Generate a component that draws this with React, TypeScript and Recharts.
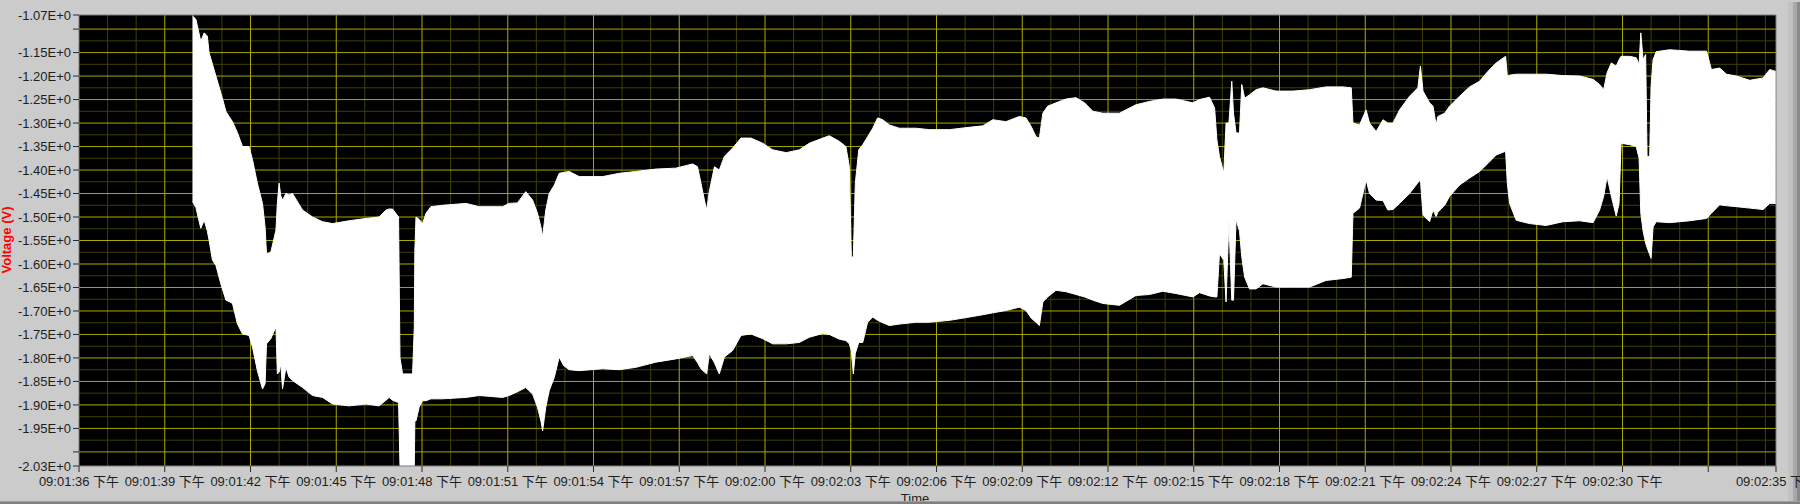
import { ComposedChart, Area, XAxis, YAxis, CartesianGrid } from "recharts";

// Seconds after 09:01:00, read from the min/max envelope of the trace.
const TIMES = [
  39.97, 40.09, 40.26, 40.38, 40.49, 40.55, 40.67, 40.79, 40.96, 41.14,
  41.25, 41.37, 41.54, 41.72, 41.95, 42.07, 42.24, 42.42, 42.51, 42.56,
  42.71, 42.89, 42.94, 43.0, 43.06, 43.12, 43.24, 43.35, 43.47, 43.82,
  44.17, 44.52, 44.87, 45.45, 46.04, 46.5, 46.74, 46.85, 46.97, 47.18,
  47.23, 47.32, 47.67, 47.73, 47.75, 47.79, 47.9, 48.02, 48.14, 48.31,
  48.72, 49.54, 50.0, 50.82, 51.05, 51.34, 51.63, 51.87, 52.04, 52.16,
  52.22, 52.33, 52.45, 52.63, 52.8, 52.95, 53.15, 53.5, 54.32, 54.9,
  55.48, 56.18, 56.88, 57.47, 57.64, 57.76, 57.88, 57.96, 58.05, 58.23,
  58.4, 58.58, 58.87, 59.16, 59.51, 59.92, 60.27, 60.74, 61.2, 61.55,
  62.02, 62.25, 62.6, 62.83, 62.95, 63.02, 63.09, 63.16, 63.28, 63.42,
  63.59, 63.77, 63.94, 64.12, 64.35, 64.7, 65.28, 65.75, 66.45, 67.15,
  67.62, 67.97, 68.43, 68.9, 69.13, 69.31, 69.48, 69.6, 69.72, 69.89,
  70.18, 70.53, 70.88, 71.18, 71.47, 71.82, 72.4, 72.98, 73.45, 73.92,
  74.38, 74.97, 75.2, 75.55, 75.73, 75.81, 75.9, 76.05, 76.13, 76.23,
  76.33, 76.39, 76.48, 76.6, 76.68, 76.78, 76.95, 77.18, 77.42, 77.88,
  78.47, 79.05, 79.63, 80.22, 80.51, 80.57, 80.8, 81.03, 81.15, 81.38,
  81.62, 81.79, 81.97, 82.2, 82.55, 82.84, 82.93, 83.02, 83.25, 83.37,
  83.48, 83.54, 83.78, 83.95, 84.3, 84.65, 85.0, 85.29, 85.58, 85.91,
  85.97, 86.05, 86.28, 86.75, 87.33, 87.92, 88.5, 88.97, 89.2, 89.34,
  89.46, 89.61, 89.78, 89.88, 89.95, 90.25, 90.48, 90.58, 90.64, 90.72,
  90.81, 90.86, 90.95, 91.0, 91.07, 91.18, 91.65, 92.35, 92.94, 93.11,
  93.4, 93.64, 93.99, 94.45, 94.92, 95.15, 95.36,
];

// Upper edge of the band (V)
const UPPER = [
  -1.072, -1.079, -1.126, -1.108, -1.115, -1.15, -1.175, -1.2, -1.235, -1.275,
  -1.286, -1.297, -1.32, -1.35, -1.35, -1.378, -1.428, -1.471, -1.521, -1.578,
  -1.575, -1.528, -1.47, -1.428, -1.455, -1.464, -1.45, -1.453, -1.45, -1.485,
  -1.5, -1.51, -1.514, -1.508, -1.503, -1.5, -1.485, -1.483, -1.483, -1.5,
  -1.8, -1.834, -1.834, -1.734, -1.571, -1.5, -1.505, -1.514, -1.492, -1.478,
  -1.475, -1.471, -1.478, -1.478, -1.471, -1.47, -1.446, -1.464, -1.492, -1.521,
  -1.542, -1.485, -1.45, -1.432, -1.407, -1.405, -1.403, -1.414, -1.414, -1.407,
  -1.403, -1.398, -1.396, -1.387, -1.393, -1.428, -1.464, -1.485, -1.446, -1.393,
  -1.4, -1.371, -1.353, -1.332, -1.332, -1.343, -1.357, -1.363, -1.357, -1.343,
  -1.332, -1.327, -1.339, -1.35, -1.393, -1.585, -1.585, -1.428, -1.357, -1.346,
  -1.329, -1.311, -1.289, -1.293, -1.304, -1.311, -1.311, -1.314, -1.314, -1.309,
  -1.306, -1.293, -1.297, -1.286, -1.289, -1.307, -1.329, -1.332, -1.279, -1.264,
  -1.257, -1.249, -1.246, -1.257, -1.275, -1.279, -1.279, -1.261, -1.254, -1.249,
  -1.249, -1.257, -1.25, -1.245, -1.268, -1.336, -1.371, -1.407, -1.3, -1.3,
  -1.211, -1.279, -1.321, -1.321, -1.218, -1.247, -1.24, -1.229, -1.225, -1.232,
  -1.232, -1.229, -1.223, -1.223, -1.225, -1.3, -1.304, -1.272, -1.3, -1.318,
  -1.293, -1.3, -1.3, -1.272, -1.243, -1.225, -1.179, -1.232, -1.257, -1.264,
  -1.304, -1.286, -1.279, -1.264, -1.243, -1.223, -1.211, -1.19, -1.172, -1.158,
  -1.2, -1.198, -1.196, -1.196, -1.196, -1.199, -1.2, -1.207, -1.218, -1.229,
  -1.193, -1.172, -1.179, -1.165, -1.158, -1.158, -1.161, -1.175, -1.108, -1.165,
  -1.154, -1.371, -1.371, -1.222, -1.165, -1.148, -1.144, -1.147, -1.147, -1.186,
  -1.183, -1.196, -1.2, -1.209, -1.204, -1.186, -1.19,
];

// Lower edge of the band (V)
const LOWER = [
  -1.467, -1.48, -1.524, -1.507, -1.53, -1.549, -1.592, -1.603, -1.642, -1.677,
  -1.68, -1.684, -1.727, -1.749, -1.752, -1.777, -1.827, -1.866, -1.855, -1.77,
  -1.759, -1.734, -1.834, -1.83, -1.813, -1.866, -1.82, -1.841, -1.848, -1.863,
  -1.88, -1.884, -1.898, -1.902, -1.898, -1.902, -1.89, -1.884, -1.89, -1.895,
  -2.03, -2.03, -2.03, -2.03, -1.934, -1.934, -1.905, -1.891, -1.891, -1.887,
  -1.887, -1.884, -1.88, -1.884, -1.88, -1.872, -1.863, -1.877, -1.905, -1.934,
  -1.955, -1.905, -1.87, -1.841, -1.798, -1.816, -1.825, -1.827, -1.823, -1.825,
  -1.82, -1.809, -1.802, -1.795, -1.81, -1.823, -1.83, -1.834, -1.791, -1.81,
  -1.834, -1.798, -1.784, -1.752, -1.749, -1.759, -1.77, -1.77, -1.767, -1.756,
  -1.748, -1.75, -1.76, -1.763, -1.77, -1.784, -1.834, -1.79, -1.767, -1.767,
  -1.724, -1.713, -1.72, -1.725, -1.731, -1.728, -1.724, -1.724, -1.72, -1.713,
  -1.708, -1.704, -1.699, -1.692, -1.699, -1.715, -1.724, -1.731, -1.681, -1.67,
  -1.656, -1.659, -1.665, -1.67, -1.677, -1.684, -1.688, -1.667, -1.665, -1.658,
  -1.663, -1.67, -1.661, -1.668, -1.67, -1.67, -1.578, -1.592, -1.681, -1.506,
  -1.677, -1.677, -1.506, -1.53, -1.585, -1.628, -1.653, -1.653, -1.642, -1.649,
  -1.649, -1.649, -1.635, -1.631, -1.628, -1.492, -1.481, -1.421, -1.45, -1.464,
  -1.465, -1.485, -1.484, -1.471, -1.45, -1.427, -1.421, -1.496, -1.51, -1.485,
  -1.499, -1.49, -1.475, -1.456, -1.432, -1.417, -1.403, -1.386, -1.368, -1.36,
  -1.428, -1.471, -1.507, -1.514, -1.518, -1.51, -1.508, -1.512, -1.485, -1.456,
  -1.414, -1.456, -1.498, -1.471, -1.343, -1.346, -1.35, -1.375, -1.492, -1.53,
  -1.556, -1.565, -1.58, -1.588, -1.521, -1.51, -1.512, -1.508, -1.503, -1.492,
  -1.474, -1.476, -1.478, -1.481, -1.484, -1.471, -1.471,
];

const T_MIN = 36;
const T_MAX = 95.37;
const V_MIN = -2.03;
const V_MAX = -1.07;

const X_TICKS = [36, 39, 42, 45, 48, 51, 54, 57, 60, 63, 66, 69, 72, 75, 78, 81, 84, 87, 90, 93, T_MAX];
const X_UNLABELED = [93];
const Y_TICKS = [
  -1.07, -1.1, -1.15, -1.2, -1.25, -1.3, -1.35, -1.4, -1.45, -1.5, -1.55,
  -1.6, -1.65, -1.7, -1.75, -1.8, -1.85, -1.9, -1.95, -2.0, -2.03,
];
const Y_UNLABELED = [-1.1, -2.0];

// grid: bright every 3 s / 0.05 V, dim every 1 s / 0.025 V
const MAJOR_X = X_TICKS.filter((t) => t > T_MIN && t < T_MAX);
const MINOR_X: number[] = [];
for (let s = 37; s < T_MAX; s++) if (s % 3 !== 0) MINOR_X.push(s);
const MAJOR_Y = Y_TICKS.filter((v) => v < -1.08 && v > -2.02);
const MINOR_Y = MAJOR_Y.slice(0, -1).map((v) => +(v - 0.025).toFixed(3));

const data = TIMES.map((t, i) => ({ t, range: [LOWER[i], UPPER[i]] }));

const FONT = "'Liberation Sans', 'Noto Sans CJK SC', Arial, sans-serif";
const PANEL = "#cbcbcb";

const pad = (n: number) => String(n).padStart(2, "0");

function formatTime(t: number) {
  if (X_UNLABELED.includes(t)) return "";
  const m = 1 + Math.floor(t / 60);
  const s = Math.floor(t % 60);
  return `09:${pad(m)}:${pad(s)} 下午`;
}

function formatVolt(v: number) {
  if (Y_UNLABELED.some((u) => Math.abs(u - v) < 1e-6)) return "";
  return `${v.toFixed(2)}E+0`;
}

export default function App() {
  return (
    <div
      style={{
        position: "absolute",
        left: 0,
        top: 0,
        width: 1800,
        height: 504,
        background: PANEL,
        overflow: "hidden",
        fontFamily: FONT,
      }}
    >
      {/* right frame edge, under the chart so the last tick label overlaps it */}
      <div style={{ position: "absolute", left: 1788, top: 2, width: 5, height: 502, background: "#c2c2c2" }} />
      <div style={{ position: "absolute", left: 1793, top: 2, width: 4, height: 502, background: "#a8a8a8" }} />
      <div style={{ position: "absolute", left: 1797, top: 2, width: 3, height: 502, background: "#8a8a8a" }} />

      <ComposedChart
        width={1800}
        height={504}
        data={data}
        margin={{ top: 15, right: 24, bottom: 0, left: 0 }}
      >
        <CartesianGrid
          fill="#000"
          stroke="#3f3f00"
          horizontalValues={MINOR_Y}
          verticalValues={MINOR_X}
        />
        <CartesianGrid stroke="#a8a800" horizontalValues={MAJOR_Y} verticalValues={MAJOR_X} />
        <CartesianGrid stroke="#7c7c7c" horizontalValues={[V_MAX]} verticalValues={[T_MAX]} />
        <XAxis
          dataKey="t"
          type="number"
          domain={[T_MIN, T_MAX]}
          ticks={X_TICKS}
          interval={0}
          allowDataOverflow
          height={38}
          tickSize={6}
          tickMargin={5}
          tickFormatter={formatTime}
          axisLine={{ stroke: "#7c7c7c" }}
          tickLine={{ stroke: "#2a2a2a" }}
          tick={{ fill: "#1e1e1e", fontSize: 13, fontFamily: FONT }}
        />
        <YAxis
          type="number"
          domain={[V_MIN, V_MAX]}
          ticks={Y_TICKS}
          interval={0}
          allowDataOverflow
          width={79}
          tickSize={6}
          tickMargin={2}
          tickFormatter={formatVolt}
          axisLine={{ stroke: "#7c7c7c" }}
          tickLine={{ stroke: "#2a2a2a" }}
          tick={{ fill: "#1e1e1e", fontSize: 13, fontFamily: FONT }}
        />
        <Area
          dataKey="range"
          type="linear"
          stroke="#ffffff"
          strokeWidth={1}
          fill="#ffffff"
          fillOpacity={1}
          dot={false}
          activeDot={false}
          isAnimationActive={false}
        />
      </ComposedChart>

      <svg
        width={1800}
        height={504}
        style={{ position: "absolute", left: 0, top: 0, pointerEvents: "none" }}
      >
        <text
          x={11}
          y={240}
          transform="rotate(-90 11 240)"
          textAnchor="middle"
          fill="#ff0000"
          fontSize={13}
          fontWeight="bold"
          fontFamily={FONT}
        >
          Voltage (V)
        </text>
        <text x={915} y={503} textAnchor="middle" fill="#1e1e1e" fontSize={13} fontFamily={FONT}>
          Time
        </text>
      </svg>

      {/* bottom frame edge */}
      <div style={{ position: "absolute", left: 0, top: 501, width: 1800, height: 1, background: "#9e9e9e" }} />
      <div style={{ position: "absolute", left: 0, top: 502, width: 1800, height: 2, background: "#808080" }} />
    </div>
  );
}
